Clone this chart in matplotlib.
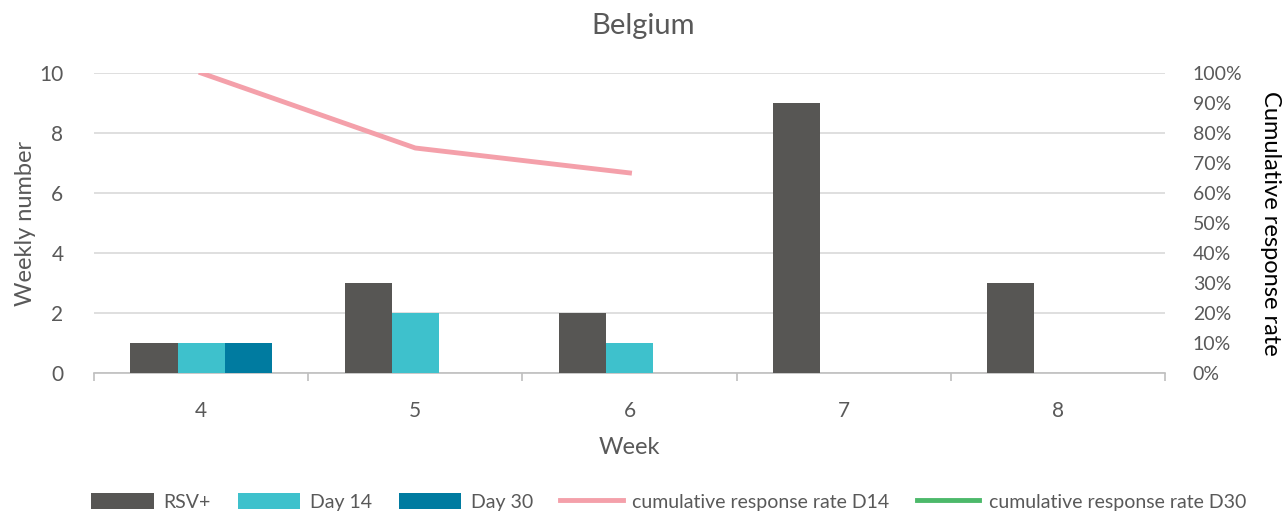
import matplotlib.pyplot as plt
import numpy as np

weeks = ['4', '5', '6', '7', '8']
rsv_pos = [1, 3, 2, 9, 3]
day14 = [1, 2, 1, 0, 0]
day30 = [1, 0, 0, 0, 0]
rate_d14 = [1.0, 0.75, 0.667, np.nan, np.nan]
rate_d30 = [np.nan, np.nan, np.nan, np.nan, np.nan]

plt.rcParams['font.family'] = ['Lato', 'DejaVu Sans']
grey_txt = '#595959'

fig = plt.figure(figsize=(12.86, 5.17), dpi=100)
ax = fig.add_axes([0.0731, 0.2785, 0.8328, 0.5803])
ax2 = ax.twinx()

x = np.arange(len(weeks))
w = 0.22
ax.bar(x - w, rsv_pos, w, color='#575654', label='RSV+', zorder=3)
ax.bar(x, day14, w, color='#3EC1CC', label='Day 14', zorder=3)
ax.bar(x + w, day30, w, color='#007BA0', label='Day 30', zorder=3)

ax2.plot(x, rate_d14, color='#F4A0AA', lw=3.5, label='cumulative response rate D14')
ax2.plot(x, rate_d30, color='#4CB96A', lw=3.5, label='cumulative response rate D30')

ax.set_xlim(-0.5, 4.5)
ax.set_ylim(0, 10)
ax.set_yticks(range(0, 11, 2))
ax2.set_ylim(0, 1)
ax2.set_yticks(np.arange(0, 1.01, 0.1))
ax2.set_yticklabels([f'{int(round(v * 100))}%' for v in np.arange(0, 1.01, 0.1)])

ax.set_xticks(x)
ax.set_xticklabels(weeks)
ax.set_xticks(np.arange(-0.5, 5, 1), minor=True)
ax.tick_params(axis='x', which='major', length=0, pad=20, labelsize=15, colors=grey_txt)
ax.tick_params(axis='x', which='minor', length=6, color='#BFBFBF', width=1.2)
ax.tick_params(axis='y', length=0, pad=22, labelsize=15, colors=grey_txt)
ax2.tick_params(axis='y', length=0, pad=20, labelsize=14, colors=grey_txt)

ax.grid(axis='y', color='#D9D9D9', lw=1.2, zorder=0)
for s in ['top', 'left', 'right']:
    ax.spines[s].set_visible(False)
    ax2.spines[s].set_visible(False)
ax2.spines['bottom'].set_visible(False)
ax.spines['bottom'].set_color('#BFBFBF')
ax.spines['bottom'].set_linewidth(1.2)

ax.set_xlabel('Week', fontsize=17, color=grey_txt, labelpad=12)
ax.set_ylabel('Weekly number', fontsize=17, color=grey_txt, labelpad=2)
ax2.set_ylabel('Cumulative response rate', fontsize=17, color='black', rotation=-90, labelpad=28)
fig.suptitle('Belgium', fontsize=21, color=grey_txt, y=0.975)

h1, l1 = ax.get_legend_handles_labels()
h2, l2 = ax2.get_legend_handles_labels()
fig.legend(h1 + h2, l1 + l2, loc='lower center', bbox_to_anchor=(0.52, -0.022), ncol=5,
           frameon=False, fontsize=14, labelcolor=grey_txt, handlelength=3.2,
           handleheight=0.9, handletextpad=0.5, columnspacing=1.4)

fig.savefig('out.png', dpi=100)
